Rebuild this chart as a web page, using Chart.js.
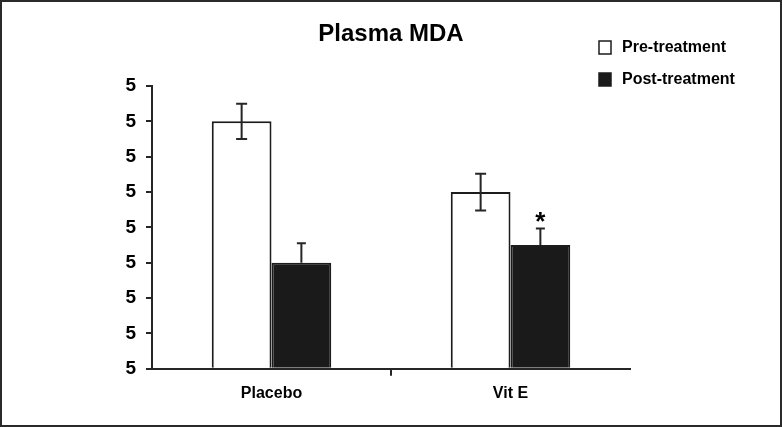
<!DOCTYPE html>
<html>
<head>
<meta charset="utf-8">
<script src="https://cdn.jsdelivr.net/npm/chart.js@4.4.1/dist/chart.umd.min.js"></script>
<style>
  html, body { margin: 0; padding: 0; background: #fff; }
  #frame { width: 782px; height: 427px; box-sizing: border-box; border: 2px solid #2a2a2a; background: #fff; }
  #frame canvas { display: block; }
</style>
</head>
<body>
<div id="frame"><canvas id="c" width="778" height="423"></canvas></div>
<script>
  "use strict";

  // ---- data ---------------------------------------------------------
  const TITLE = 'Plasma MDA';
  const categories = ['Placebo', 'Vit E'];
  const preValues = [7, 5];
  const postValues = [3, 3.5];
  const preErrors = [0.5, 0.52];
  const postErrors = [0.55, 0.47];
  const seriesLabels = ['Pre-treatment', 'Post-treatment'];
  // the source figure prints every y tick as "5"
  const yTickLabels = ['5', '5', '5', '5', '5', '5', '5', '5', '5'];
  const significant = [[1, 1]]; // [dataset, category] marked with *

  const INK = '#1c1c1c';
  const AXIS = '#262626';

  // ---- plugins ------------------------------------------------------

  const errorBars = {
    id: 'errorBars',
    afterDatasetsDraw(chart) {
      const ctx = chart.ctx;
      const y = chart.scales.y;
      const errs = [preErrors, postErrors];
      ctx.save();
      ctx.strokeStyle = AXIS;
      ctx.lineWidth = 2;
      chart.data.datasets.forEach((ds, di) => {
        const meta = chart.getDatasetMeta(di);
        meta.data.forEach((bar, i) => {
          const v = ds.data[i];
          const e = errs[di][i];
          const top = y.getPixelForValue(v + e);
          const bot = di === 0 ? y.getPixelForValue(v - e) : bar.y;
          const cap = di === 0 ? 5.5 : 4.5;
          ctx.beginPath();
          ctx.moveTo(bar.x, top); ctx.lineTo(bar.x, bot);
          ctx.moveTo(bar.x - cap, top); ctx.lineTo(bar.x + cap, top);
          if (di === 0) { ctx.moveTo(bar.x - cap, bot); ctx.lineTo(bar.x + cap, bot); }
          ctx.stroke();
        });
      });
      // significance stars
      ctx.fillStyle = '#000';
      ctx.font = 'bold 26px "Liberation Sans", Arial, sans-serif';
      ctx.textAlign = 'center';
      ctx.textBaseline = 'middle';
      significant.forEach(([di, i]) => {
        const bar = chart.getDatasetMeta(di).data[i];
        const v = chart.data.datasets[di].data[i];
        const e = (di === 0 ? preErrors : postErrors)[i];
        ctx.fillText('*', bar.x, y.getPixelForValue(v + e) - 6);
      });
      ctx.restore();
    },
  };

  const titleAndLegend = {
    id: 'titleAndLegend',
    afterDraw(chart) {
      const ctx = chart.ctx;
      const area = chart.chartArea;
      ctx.save();
      ctx.fillStyle = '#000';
      ctx.font = 'bold 24px "Liberation Sans", Arial, sans-serif';
      ctx.textAlign = 'center';
      ctx.textBaseline = 'middle';
      ctx.fillText(TITLE, (area.left + area.right) / 2, 32);

      ctx.font = 'bold 16px "Liberation Sans", Arial, sans-serif';
      ctx.textAlign = 'left';
      chart.data.datasets.forEach((ds, i) => {
        const cy = 45 + i * 32;
        ctx.fillStyle = ds.backgroundColor;
        ctx.fillRect(597, cy - 6, 12, 13);
        ctx.strokeStyle = INK;
        ctx.lineWidth = 1.5;
        ctx.strokeRect(597, cy - 6, 12, 13);
        ctx.fillStyle = '#000';
        ctx.fillText(ds.label, 620, cy + 1);
      });
      ctx.restore();
    },
  };

  // ---- chart --------------------------------------------------------

  new Chart(document.getElementById('c'), {
    type: 'bar',
    data: {
      labels: categories,
      datasets: [
        { label: seriesLabels[0], data: preValues, backgroundColor: '#ffffff', borderColor: INK, borderWidth: 2 },
        { label: seriesLabels[1], data: postValues, backgroundColor: '#1a1a1a', borderColor: INK, borderWidth: 2 },
      ],
    },
    options: {
      responsive: false,
      animation: false,
      layout: { padding: { top: 84, right: 150, bottom: 14, left: 0 } },
      datasets: { bar: { categoryPercentage: 0.5, barPercentage: 1.0 } },
      plugins: {
        legend: { display: false },
        title: { display: false },
        tooltip: { enabled: false },
      },
      scales: {
        x: {
          grid: {
            drawOnChartArea: false,
            offset: true,
            tickLength: 7,
            lineWidth: 2,
            tickColor: (c) => (c.index === 1 ? AXIS : 'transparent'),
          },
          border: { color: AXIS, width: 2 },
          ticks: { color: '#000', padding: 8, font: { family: '"Liberation Sans", Arial, sans-serif', size: 16, weight: 'bold' } },
        },
        y: {
          min: 0,
          max: 8,
          afterFit: (s) => { s.width = 150; },
          grid: { drawOnChartArea: false, tickLength: 6, lineWidth: 2, tickColor: AXIS },
          border: { color: AXIS, width: 2 },
          ticks: {
            stepSize: 1,
            color: '#000',
            padding: 10,
            font: { family: '"Liberation Sans", Arial, sans-serif', size: 19, weight: 'bold' },
            callback: (v, i) => yTickLabels[i],
          },
        },
      },
    },
    plugins: [errorBars, titleAndLegend],
  });
</script>
</body>
</html>
